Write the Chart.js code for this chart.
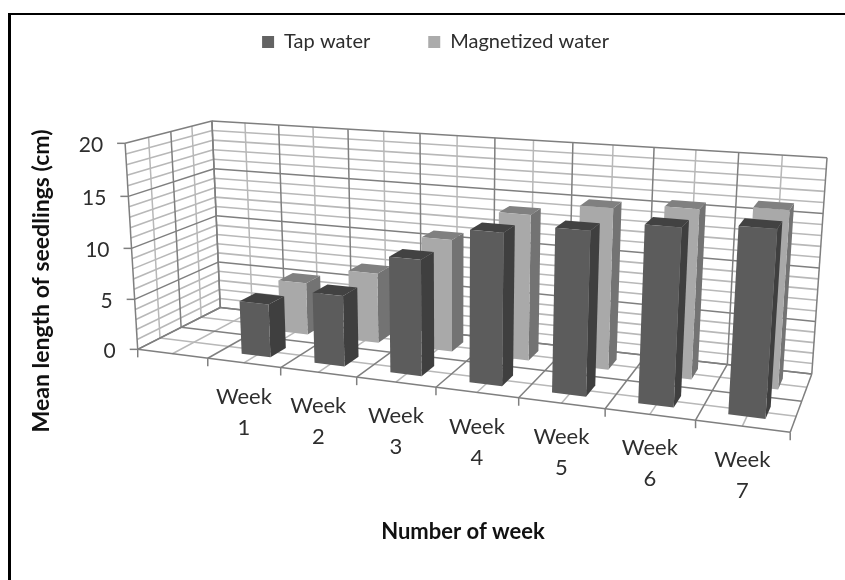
<!DOCTYPE html>
<html>
<head>
<meta charset="utf-8">
<style>
  html, body { margin: 0; padding: 0; background: #fff; overflow: hidden; }
  #frame { position: absolute; left: 8px; top: 13px; right: 0; bottom: 0; border-left: 3px solid #000; border-top: 2px solid #000; }
  #chart { position: absolute; left: 0; top: 0; filter: blur(0.5px); }
</style>
</head>
<body>
<div id="frame"></div>
<canvas id="chart" width="845" height="580"></canvas>
<script src="https://cdn.jsdelivr.net/npm/chart.js@4/dist/chart.umd.js"></script>
<script>
// first category is empty in the original chart
var weeks = ['', 'Week 1', 'Week 2', 'Week 3', 'Week 4', 'Week 5', 'Week 6', 'Week 7'];
var tapWater = [null, 5.2, 6.8, 10.9, 14, 14.8, 15.7, 16.2];
var magnetizedWater = [null, 5.3, 7, 11, 14, 15.2, 15.7, 16.2];

var yTitle = 'Mean length of seedlings (cm)';
var xTitle = 'Number of week';

var fontName = 'Lato, "Open Sans", sans-serif';
var textColor = '#2e2e2e';

// corners of the 3d box in page pixels: [u, v, w, px, py]
// u along weeks, v up, w into the page
var boxCorners = [
  [0, 0, 0, 138, 349],
  [1, 0, 0, 790, 433],
  [0, 0, 1, 220, 308],
  [1, 0, 1, 812, 373],
  [0, 1, 0, 125, 143],
  [0, 1, 1, 212, 121],
  [1, 1, 1, 827, 158]
];

// depth slot of each series, 0 is the front of the box
var seriesDepth = [[0.15, 0.35], [0.65, 0.85]];
var faceColors = [
  { front: '#5c5c5c', side: '#3f3f3f', top: '#424242' },
  { front: '#a9a9a9', side: '#737373', top: '#808080' }
];

// least squares fit of the projective camera
function solveCamera(points) {
  var rows = [], rhs = [];
  points.forEach(function(p) {
    var u = p[0], v = p[1], w = p[2], x = p[3] / 1000, y = p[4] / 1000;
    rows.push([u, v, w, 1, 0, 0, 0, 0, -x * u, -x * v, -x * w]);
    rhs.push(x);
    rows.push([0, 0, 0, 0, u, v, w, 1, -y * u, -y * v, -y * w]);
    rhs.push(y);
  });
  var n = 11, m = [];
  for (var i = 0; i < n; i++) {
    m[i] = [];
    for (var j = 0; j < n; j++) {
      var s = 0;
      rows.forEach(function(r) { s += r[i] * r[j]; });
      m[i][j] = s;
    }
    var b = 0;
    rows.forEach(function(r, k) { b += r[i] * rhs[k]; });
    m[i][n] = b;
  }
  for (var c = 0; c < n; c++) {
    var piv = c;
    for (var r = c + 1; r < n; r++) if (Math.abs(m[r][c]) > Math.abs(m[piv][c])) piv = r;
    var t = m[c]; m[c] = m[piv]; m[piv] = t;
    for (var r2 = 0; r2 < n; r2++) {
      if (r2 === c) continue;
      var f = m[r2][c] / m[c][c];
      for (var k = c; k <= n; k++) m[r2][k] -= f * m[c][k];
    }
  }
  return m.map(function(row, i) { return row[n] / row[i]; });
}

var cam = solveCamera(boxCorners);

function project(u, v, w) {
  var d = cam[8] * u + cam[9] * v + cam[10] * w + 1;
  return {
    x: 1000 * (cam[0] * u + cam[1] * v + cam[2] * w + cam[3]) / d,
    y: 1000 * (cam[4] * u + cam[5] * v + cam[6] * w + cam[7]) / d
  };
}

function line3d(ctx, a, b, color, width) {
  var p = project(a[0], a[1], a[2]), q = project(b[0], b[1], b[2]);
  ctx.beginPath();
  ctx.moveTo(p.x, p.y);
  ctx.lineTo(q.x, q.y);
  ctx.strokeStyle = color;
  ctx.lineWidth = width;
  ctx.stroke();
}

function face(ctx, pts, color) {
  ctx.beginPath();
  pts.forEach(function(a, i) {
    var p = project(a[0], a[1], a[2]);
    if (i === 0) ctx.moveTo(p.x, p.y); else ctx.lineTo(p.x, p.y);
  });
  ctx.closePath();
  ctx.fillStyle = color;
  ctx.fill();
}

function drawWalls(chart, ctx) {
  var x = chart.scales.x, y = chart.scales.y;
  var major = '#7f7f7f', minor = '#b8b8b8';
  var cells = x.ticks.length * 2;

  // horizontal lines on back and left wall, minor ones first
  [false, true].forEach(function(wantMajor) {
    y.ticks.forEach(function(t) {
      var isMajor = t.value % 5 === 0;
      if (isMajor !== wantMajor) return;
      var v = (y.bottom - y.getPixelForValue(t.value)) / y.height;
      var col = isMajor ? major : minor, lw = isMajor ? 1.5 : 1.6;
      line3d(ctx, [0, v, 1], [1, v, 1], col, lw);
      line3d(ctx, [0, v, 0], [0, v, 1], col, lw);
    });
    // lines running along the weeks on the back wall and floor
    for (var i = 0; i <= cells; i++) {
      var isMaj = i % 2 === 0;
      if (isMaj !== wantMajor) continue;
      var u = i / cells, c = isMaj ? major : minor;
      line3d(ctx, [u, 0, 1], [u, 1, 1], c, 1.5);
      line3d(ctx, [u, 0, 0], [u, 0, 1], c, 1.5);
    }
    // depth lines on the left wall and floor
    for (var d = 0; d <= 4; d++) {
      var isM = d % 2 === 0;
      if (isM !== wantMajor) continue;
      var cd = isM ? major : minor;
      line3d(ctx, [0, 0, d / 4], [0, 1, d / 4], cd, 1.5);
      line3d(ctx, [0, 0, d / 4], [1, 0, d / 4], cd, 1.5);
    }
  });
}

function drawBars(chart, ctx) {
  var area = chart.chartArea, y = chart.scales.y;
  // back series first so the front one covers it
  for (var s = chart.data.datasets.length - 1; s >= 0; s--) {
    var bars = chart.getDatasetMeta(s).data;
    var values = chart.data.datasets[s].data;
    var col = faceColors[s], w0 = seriesDepth[s][0], w1 = seriesDepth[s][1];
    bars.forEach(function(bar, i) {
      if (values[i] === null) return;
      var u0 = (bar.x - bar.width / 2 - area.left) / area.width;
      var u1 = (bar.x + bar.width / 2 - area.left) / area.width;
      var v = (y.bottom - bar.y) / y.height;
      face(ctx, [[u1, 0, w0], [u1, 0, w1], [u1, v, w1], [u1, v, w0]], col.side);
      face(ctx, [[u0, v, w0], [u1, v, w0], [u1, v, w1], [u0, v, w1]], col.top);
      face(ctx, [[u0, 0, w0], [u1, 0, w0], [u1, v, w0], [u0, v, w0]], col.front);
    });
  }
}

function drawAxisText(chart, ctx) {
  var x = chart.scales.x, y = chart.scales.y;
  ctx.fillStyle = textColor;
  ctx.textBaseline = 'middle';

  // value ticks and labels
  y.ticks.forEach(function(t) {
    if (t.value % 5 !== 0) return;
    var v = (y.bottom - y.getPixelForValue(t.value)) / y.height;
    var p = project(0, v, 0);
    ctx.beginPath();
    ctx.moveTo(p.x, p.y);
    ctx.lineTo(p.x - 8, p.y);
    ctx.strokeStyle = '#7f7f7f';
    ctx.lineWidth = 1.5;
    ctx.stroke();
    ctx.font = '21px ' + fontName;
    ctx.textAlign = 'right';
    ctx.fillText(String(t.value), p.x - 22, p.y + 2);
  });

  // week ticks and two line labels
  var n = x.ticks.length;
  for (var i = 0; i <= n; i++) {
    var p = project(i / n, 0, 0);
    ctx.beginPath();
    ctx.moveTo(p.x, p.y);
    ctx.lineTo(p.x, p.y + 8);
    ctx.strokeStyle = '#7f7f7f';
    ctx.lineWidth = 1.5;
    ctx.stroke();
  }
  ctx.font = '22px ' + fontName;
  ctx.textAlign = 'center';
  x.ticks.forEach(function(t, i) {
    var parts = x.getLabelForValue(t.value).split(' ');
    var p = project((i + 0.5) / n, 0, 0);
    parts.forEach(function(s, k) {
      ctx.fillText(s, p.x, p.y + 34 + k * 31);
    });
  });

  ctx.font = 'bold 22px ' + fontName;
  ctx.fillStyle = '#111';
  ctx.fillText(xTitle, 463, 532);
  ctx.save();
  ctx.font = 'bold 23px ' + fontName;
  ctx.translate(42, 281);
  ctx.rotate(-Math.PI / 2);
  ctx.fillText(yTitle, 0, 0);
  ctx.restore();
}

var box3d = {
  id: 'box3d',
  afterLayout: function(chart) {
    // legend padding sets the item gap, pull it back up to its row
    chart.legend.top = -26;
  },
  beforeDatasetsDraw: function(chart) {
    var ctx = chart.ctx;
    ctx.save();
    drawWalls(chart, ctx);
    drawBars(chart, ctx);
    drawAxisText(chart, ctx);
    ctx.restore();
    return false;
  }
};

new Chart(document.getElementById('chart').getContext('2d'), {
  type: 'bar',
  data: {
    labels: weeks,
    datasets: [
      { label: 'Tap water', data: tapWater, backgroundColor: '#636363' },
      { label: 'Magnetized water', data: magnetizedWater, backgroundColor: '#ababab' }
    ]
  },
  options: {
    responsive: false,
    animation: false,
    layout: { padding: { left: 26 } },
    datasets: { bar: { grouped: false, categoryPercentage: 1, barPercentage: 0.4, borderWidth: 0 } },
    scales: {
      x: { display: false },
      y: { display: false, min: 0, max: 20, ticks: { stepSize: 1 } }
    },
    plugins: {
      tooltip: { enabled: false },
      legend: {
        position: 'top',
        labels: {
          boxWidth: 12,
          boxHeight: 12,
          padding: 58,
          color: textColor,
          font: { family: fontName, size: 20 }
        }
      }
    }
  },
  plugins: [box3d]
});
</script>
</body>
</html>
